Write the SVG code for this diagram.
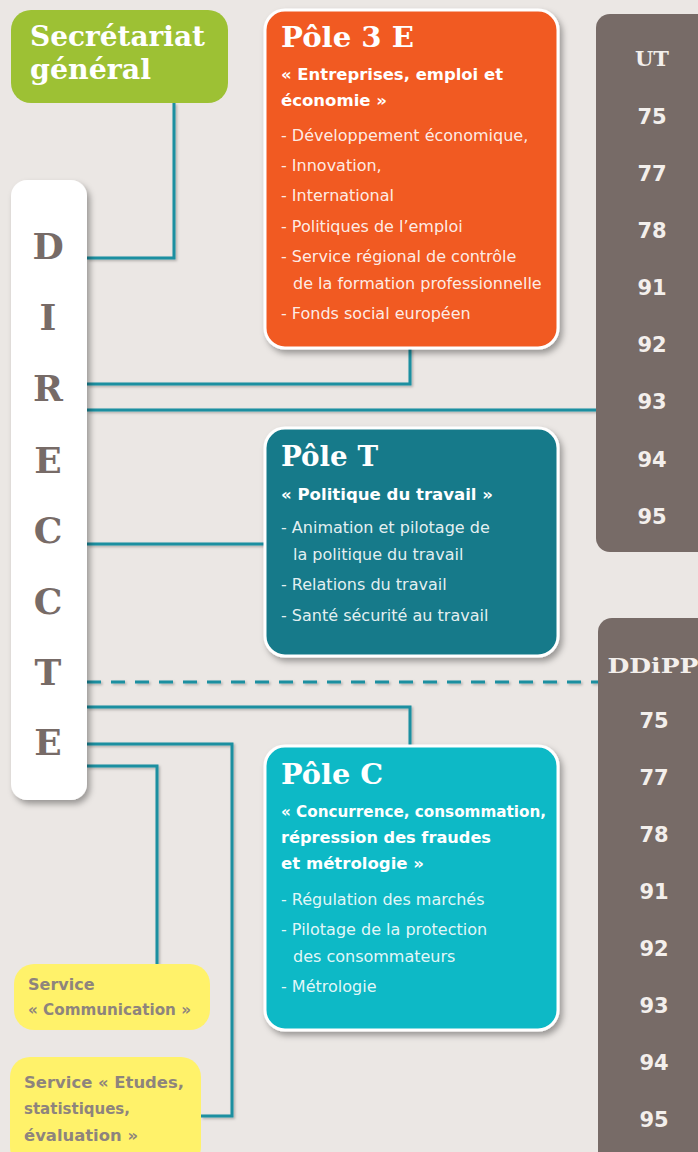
<svg xmlns="http://www.w3.org/2000/svg" width="698" height="1152" viewBox="0 0 698 1152">
<defs>
<filter id="sh" x="-20%" y="-20%" width="140%" height="140%"><feDropShadow dx="3" dy="4" stdDeviation="3" flood-color="#000" flood-opacity="0.35"/></filter>
<filter id="lsh" x="-5%" y="-5%" width="110%" height="110%"><feDropShadow dx="1.5" dy="1.5" stdDeviation="1" flood-color="#000" flood-opacity="0.25"/></filter>
</defs>
<style>
.bg{fill:#ebe7e4}
.ttl{font-family:"DejaVu Serif","Liberation Serif",serif;font-weight:bold;fill:#fff}
.sub{font-family:"DejaVu Sans",Verdana,sans-serif;font-weight:bold;font-size:16px;fill:#fff}
.it{font-family:"DejaVu Sans",Verdana,sans-serif;font-size:16px;fill:#fff;fill-opacity:0.9}
.num{font-family:"DejaVu Sans",Verdana,sans-serif;font-weight:bold;font-size:21px;fill:#f3efec;text-anchor:middle}
.hd{font-family:"DejaVu Serif","Liberation Serif",serif;font-weight:bold;font-size:21px;fill:#f3efec;text-anchor:middle}
.dir{font-family:"DejaVu Serif","Liberation Serif",serif;font-weight:bold;font-size:36px;fill:#776b67;text-anchor:middle}
.svc{font-family:"DejaVu Sans",Verdana,sans-serif;font-weight:bold;font-size:16px;fill:#8e847d}
.pole{stroke:#fff;stroke-width:3}
.ln{fill:none;stroke:#1a8fa0;stroke-width:3}
</style>
<rect class="bg" x="0" y="0" width="698" height="1152"/>

<g id="connectors" filter="url(#lsh)">
<polyline class="ln" points="174,103 174,258 87,258"/>
<polyline class="ln" points="410,348 410,384 87,384"/>
<line class="ln" x1="87" y1="410" x2="598" y2="410"/>
<line class="ln" x1="87" y1="544" x2="266" y2="544"/>
<line class="ln" x1="87" y1="682" x2="598" y2="682" stroke-dasharray="14,10"/>
<polyline class="ln" points="87,707 410,707 410,746"/>
<polyline class="ln" points="87,744 232,744 232,1116 201,1116"/>
<polyline class="ln" points="87,766 157,766 157,965"/>
</g>

<g id="secretariat">
<rect x="11" y="10" width="217" height="93" rx="20" fill="#9dc134"/>
<text class="ttl" x="30" y="46" font-size="27" textLength="175" lengthAdjust="spacingAndGlyphs">Secrétariat</text>
<text class="ttl" x="30" y="79" font-size="27" textLength="121" lengthAdjust="spacingAndGlyphs">général</text>
</g>

<g id="direccte">
<rect x="11" y="180" width="76" height="620" rx="16" fill="#fff" filter="url(#sh)"/>
<text class="dir" x="48" y="259">D</text>
<text class="dir" x="48" y="330">I</text>
<text class="dir" x="48" y="401">R</text>
<text class="dir" x="48" y="473">E</text>
<text class="dir" x="48" y="543">C</text>
<text class="dir" x="48" y="614">C</text>
<text class="dir" x="48" y="685">T</text>
<text class="dir" x="48" y="755">E</text>
</g>

<g id="pole3e">
<rect class="pole" x="265" y="10" width="293" height="338" rx="20" fill="#f15a24" filter="url(#sh)"/>
<text class="ttl" x="281" y="47" font-size="28" textLength="133" lengthAdjust="spacingAndGlyphs">Pôle 3 E</text>
<text class="sub" x="281" y="80" textLength="222" lengthAdjust="spacingAndGlyphs">« Entreprises, emploi et</text>
<text class="sub" x="281" y="106" textLength="106" lengthAdjust="spacingAndGlyphs">économie »</text>
<text class="it" x="281" y="141">- Développement économique,</text>
<text class="it" x="281" y="171">- Innovation,</text>
<text class="it" x="281" y="201">- International</text>
<text class="it" x="281" y="232">- Politiques de l’emploi</text>
<text class="it" x="281" y="262">- Service régional de contrôle</text>
<text class="it" x="293" y="289">de la formation professionnelle</text>
<text class="it" x="281" y="319">- Fonds social européen</text>
</g>

<g id="ut">
<rect x="596" y="14" width="120" height="538" rx="14" fill="#776b67"/>
<text class="hd" x="652" y="66">UT</text>
<text class="num" x="652" y="124">75</text>
<text class="num" x="652" y="181">77</text>
<text class="num" x="652" y="238">78</text>
<text class="num" x="652" y="295">91</text>
<text class="num" x="652" y="352">92</text>
<text class="num" x="652" y="409">93</text>
<text class="num" x="652" y="467">94</text>
<text class="num" x="652" y="524">95</text>
</g>

<g id="polet">
<rect class="pole" x="265" y="428" width="293" height="228" rx="20" fill="#157a8a" filter="url(#sh)"/>
<text class="ttl" x="281" y="466" font-size="28" textLength="97" lengthAdjust="spacingAndGlyphs">Pôle T</text>
<text class="sub" x="281" y="500" textLength="212" lengthAdjust="spacingAndGlyphs">« Politique du travail »</text>
<text class="it" x="281" y="533">- Animation et pilotage de</text>
<text class="it" x="293" y="560">la politique du travail</text>
<text class="it" x="281" y="590">- Relations du travail</text>
<text class="it" x="281" y="621">- Santé sécurité au travail</text>
</g>

<g id="ddipp">
<rect x="598" y="618" width="120" height="560" rx="14" fill="#776b67"/>
<text class="hd" x="653" y="673" textLength="91" lengthAdjust="spacingAndGlyphs">DDiPP</text>
<text class="num" x="654" y="728">75</text>
<text class="num" x="654" y="785">77</text>
<text class="num" x="654" y="842">78</text>
<text class="num" x="654" y="899">91</text>
<text class="num" x="654" y="956">92</text>
<text class="num" x="654" y="1013">93</text>
<text class="num" x="654" y="1070">94</text>
<text class="num" x="654" y="1127">95</text>
</g>

<g id="polec">
<rect class="pole" x="265" y="746" width="293" height="284" rx="20" fill="#0ab9c6" filter="url(#sh)"/>
<text class="ttl" x="281" y="784" font-size="28" textLength="102" lengthAdjust="spacingAndGlyphs">Pôle C</text>
<text class="sub" x="281" y="817" textLength="265" lengthAdjust="spacingAndGlyphs">« Concurrence, consommation,</text>
<text class="sub" x="281" y="843" textLength="210" lengthAdjust="spacingAndGlyphs">répression des fraudes</text>
<text class="sub" x="281" y="869" textLength="143" lengthAdjust="spacingAndGlyphs">et métrologie »</text>
<text class="it" x="281" y="905">- Régulation des marchés</text>
<text class="it" x="281" y="935">- Pilotage de la protection</text>
<text class="it" x="293" y="962">des consommateurs</text>
<text class="it" x="281" y="992">- Métrologie</text>
</g>

<g id="communication">
<rect x="14" y="964" width="196" height="66" rx="20" fill="#fff26a"/>
<text class="svc" x="28" y="990">Service</text>
<text class="svc" x="28" y="1015" textLength="163" lengthAdjust="spacingAndGlyphs">« Communication »</text>
</g>

<g id="etudes">
<rect x="10" y="1057" width="191" height="110" rx="20" fill="#fff26a"/>
<text class="svc" x="24" y="1088" textLength="160" lengthAdjust="spacingAndGlyphs">Service « Etudes,</text>
<text class="svc" x="24" y="1114" textLength="106" lengthAdjust="spacingAndGlyphs">statistiques,</text>
<text class="svc" x="24" y="1141" textLength="114" lengthAdjust="spacingAndGlyphs">évaluation »</text>
</g>
</svg>
